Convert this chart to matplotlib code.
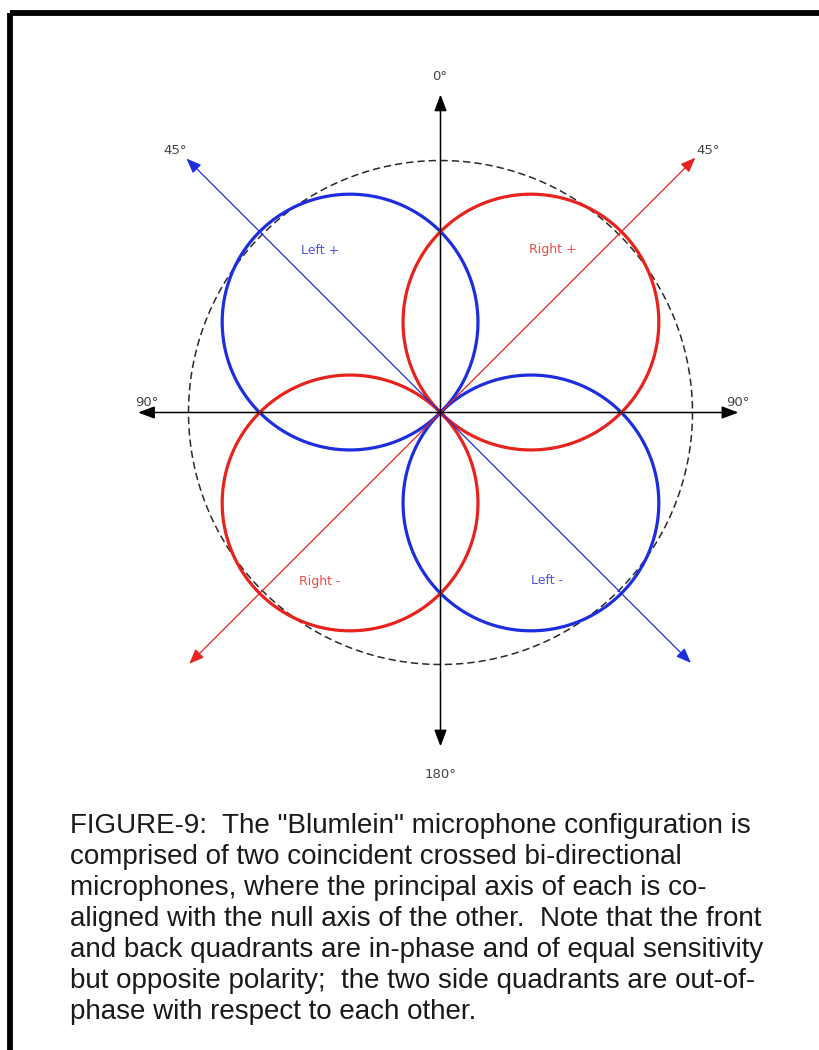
import numpy as np
import matplotlib
matplotlib.use("Agg")
import matplotlib.pyplot as plt
from matplotlib.patches import FancyArrowPatch, Rectangle

# ---------------- data ----------------
mic_names = ["Left", "Right"]
mic_axis_deg = [-45.0, 45.0]          # compass angle of each mic's principal (+) axis
mic_colors = ["#1c2ede", "#e6231c"]
lobe_peak = 1.015                      # lobe peak relative to the reference (dashed) circle
ref_circle = 1.0

polarity_labels = ["Left +", "Right +", "Right -", "Left -"]
polarity_colors = ["#4a55e6", "#ec4a44", "#ec4a44", "#4a55e6"]

axis_labels = ["0°", "180°", "90°", "90°", "45°", "45°"]

caption_lines = [
    "FIGURE-9:  The \"Blumlein\" microphone configuration is",
    "comprised of two coincident crossed bi-directional",
    "microphones, where the principal axis of each is co-",
    "aligned with the null axis of the other.  Note that the front",
    "and back quadrants are in-phase and of equal sensitivity",
    "but opposite polarity;  the two side quadrants are out-of-",
    "phase with respect to each other.",
]

# ---------------- layout ----------------
W, H = 819, 1050
CX, CY = 440.5, 412.5
R = 252.0

fig = plt.figure(figsize=(W / 100, H / 100), dpi=100)
ax = fig.add_axes([0, 0, 1, 1])
ax.set_xlim(0, W)
ax.set_ylim(H, 0)
ax.axis("off")


def to_xy(theta_deg, r):
    t = np.radians(theta_deg)
    return CX + r * R * np.sin(t), CY - r * R * np.cos(t)


# frame
ax.add_patch(Rectangle((9.5, 13), W + 50, H + 50, fill=False, lw=4.2,
                       edgecolor="black", zorder=1))

# dashed reference circle
th = np.linspace(0, 360, 721)
x, y = to_xy(th, ref_circle * np.ones_like(th))
ax.plot(x, y, color="#2a2a2a", lw=1.1, ls=(0, (4.8, 2.6)), zorder=2)

# lobes (figure-of-eight patterns)
th = np.linspace(0, 360, 1441)
for name, a, c in zip(mic_names, mic_axis_deg, mic_colors):
    r = lobe_peak * np.abs(np.cos(np.radians(th - a)))
    x, y = to_xy(th, r)
    ax.plot(x, y, color=c, lw=2.3, zorder=3, solid_capstyle="round")


def arrow(p0, p1, color, lw, hl, hw):
    ap = FancyArrowPatch(p0, p1,
                         arrowstyle=f"<|-|>,head_length={hl},head_width={hw}",
                         mutation_scale=1, color=color, lw=lw,
                         shrinkA=0, shrinkB=0, zorder=5)
    ax.add_patch(ap)


# diagonal mic-axis arrows
arrow(to_xy(-45, 1.425), to_xy(135, 1.405), mic_colors[0], 0.9, 9, 3.6)
arrow(to_xy(225, 1.41), to_xy(45, 1.43), mic_colors[1], 0.9, 9, 3.6)

# main axes arrows
arrow(to_xy(0, 1.262), to_xy(180, 1.325), "black", 1.1, 10, 3.8)
arrow(to_xy(270, 1.20), to_xy(90, 1.182), "black", 1.1, 10, 3.8)

# axis labels
lab_pos = [(440, 76), (441, 775), (147, 402), (738, 402), (175, 150), (708, 150)]
for t, (px, py) in zip(axis_labels, lab_pos):
    ax.text(px, py, t, fontsize=9.5, color="#444444", ha="center", va="center",
            family="DejaVu Sans", zorder=6)

# polarity labels
pol_pos = [(320, 250), (553, 250), (320, 581), (547, 581)]
for t, c, (px, py) in zip(polarity_labels, polarity_colors, pol_pos):
    ax.text(px, py, t, fontsize=9, color=c, ha="center", va="center",
            family="DejaVu Sans", zorder=6)

# caption
for i, line in enumerate(caption_lines):
    ax.text(70, 833 + 31 * i, line, fontsize=20, color="#1a1a1a",
            family="Liberation Sans", ha="left", va="baseline")

fig.savefig("out.png", dpi=100)
